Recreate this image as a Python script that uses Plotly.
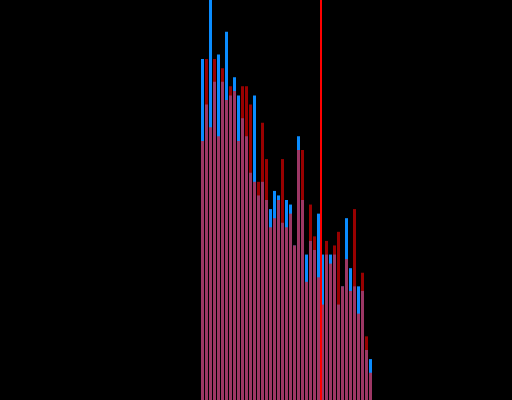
import plotly.graph_objects as go

# bin index (43 bins)
bins = list(range(43))
# counts per bin
blue_counts = [75, 65, 88, 70, 76, 70, 81, 67, 71, 67, 62, 58, 50, 67, 45, 48, 44, 42, 46, 45,
               39, 44, 43, 34, 58, 44, 32, 35, 33, 41, 32, 32, 32, 32, 21, 25, 40, 29, 25, 25,
               24, 11, 9]
red_counts = [57, 75, 60, 75, 58, 73, 66, 69, 68, 57, 69, 69, 65, 48, 48, 61, 53, 38, 40, 44,
              53, 38, 41, 34, 55, 55, 26, 43, 36, 27, 21, 35, 30, 34, 37, 25, 31, 24, 42, 19,
              28, 14, 6]
marker_x = 29.625

fig = go.Figure()
fig.add_trace(go.Bar(x=bins, y=blue_counts, marker=dict(color="#0a8cff", line=dict(width=0))))
fig.add_trace(go.Bar(x=bins, y=red_counts, marker=dict(color="#ff0000", line=dict(width=0)), opacity=0.6))
fig.add_shape(type="line", x0=marker_x, x1=marker_x, y0=0, y1=1, yref="paper",
              line=dict(color="#ff0000", width=2), layer="above")
fig.update_layout(
    barmode="overlay", bargap=0.25, showlegend=False,
    width=512, height=400, margin=dict(l=0, r=0, t=0, b=0, pad=0),
    paper_bgcolor="black", plot_bgcolor="black",
    xaxis=dict(visible=False, range=[-50.625, 77.375]),
    yaxis=dict(visible=False, range=[0, 88]),
)
fig.write_html("out.html", config={"displayModeBar": False},
               post_script="document.body.style.margin='0';document.body.style.overflow='hidden';document.body.style.background='black';")
